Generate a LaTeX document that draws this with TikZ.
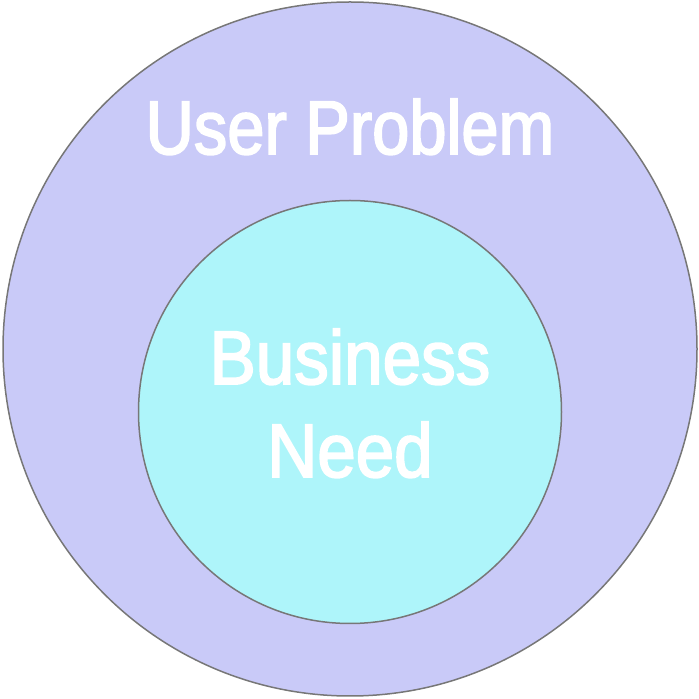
\documentclass[tikz,border=0pt]{standalone}
\usepackage{fontspec}
\setmainfont{Liberation Sans}
\newfontfamily\labelfont[FakeBold=2.5]{Liberation Sans}
\definecolor{outerfill}{HTML}{C9CAF8}
\definecolor{innerfill}{HTML}{AEF5FA}
\definecolor{edge}{HTML}{777777}
\begin{document}
\begin{tikzpicture}[x=1pt,y=1pt,
  ring/.style={draw=edge,line width=1.5pt},
  lbl/.style={text=white,font=\labelfont\fontsize{76}{76}\selectfont,anchor=base,inner sep=0pt}]
\useasboundingbox (0,0) rectangle (699,699);
\node[ring,circle,fill=outerfill,minimum size=694pt,inner sep=0pt] (outer) at (350,350) {};
\node[ring,circle,fill=innerfill,minimum size=423pt,inner sep=0pt] (inner) at (350,287) {};
\node[lbl] (t1) at (350,545) {\scalebox{0.88}[1]{User Problem}};
\node[lbl] (t2) at (350,315) {\scalebox{0.91}[1]{Business}};
\node[lbl] (t3) at (350,222) {\scalebox{0.91}[1]{Need}};
\end{tikzpicture}
\end{document}
